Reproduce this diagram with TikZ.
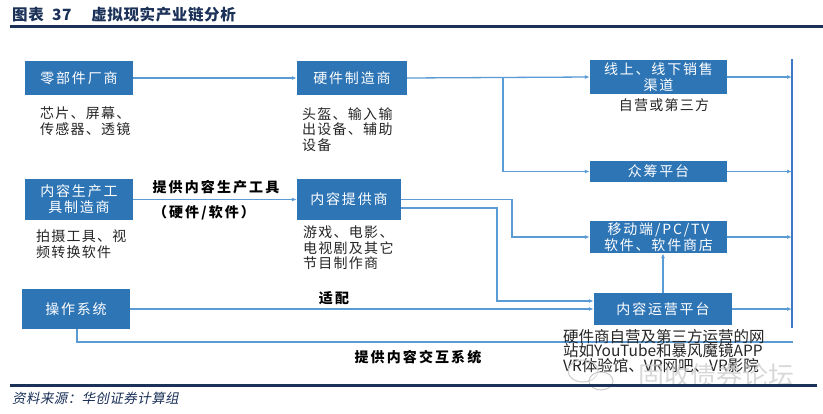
\documentclass[tikz,border=0pt]{standalone}
\usepackage{fontspec}
\setmainfont{Noto Sans CJK SC}
\newfontfamily\cjkit[FakeSlant=0.2,LetterSpace=3]{Noto Sans CJK SC}
\newfontfamily\boxfont[LetterSpace=13]{Noto Sans CJK SC}
\newfontfamily\descfont[LetterSpace=9]{Noto Sans CJK SC}
\newfontfamily\lblfont[LetterSpace=15]{Noto Sans CJK SC}
\newfontfamily\titlefont[LetterSpace=4]{Noto Sans CJK SC}
\usetikzlibrary{arrows.meta}
\definecolor{boxblue}{HTML}{2E75B6}
\definecolor{lineblue}{HTML}{5B9BD5}
\definecolor{barblue}{HTML}{3C78C3}
\definecolor{navy}{HTML}{1B3158}
\begin{document}
\begin{tikzpicture}[x=1pt,y=-1pt,
  box/.style={fill=boxblue, text=white, font=\boxfont\fontsize{14}{16}\selectfont, align=center, inner sep=0pt},
  conn/.style={draw=lineblue, line width=1.3pt},
  arr/.style={conn, -{Latex[length=5pt,width=4pt]}},
  bar/.style={draw=barblue, line width=2pt},
  desc/.style={font=\descfont\fontsize{14}{15.5}\selectfont, align=left, anchor=north west, inner sep=0pt, text=black!85},
  lbl/.style={font=\lblfont\bfseries\fontsize{14}{16}\selectfont, inner sep=0pt, text=black},
  rule/.style={draw=navy, line width=3pt}
]
\useasboundingbox (0,0) rectangle (823,413);
\fill[white] (0,0) rectangle (823,413);

% title
\node[anchor=west, inner sep=0pt, text=navy, font=\titlefont\bfseries\fontsize{15.5}{16}\selectfont] (title) at (12,15) {图表\ \ 37\quad\ 虚拟现实产业链分析};
\coordinate (t1) at (10,26);
\coordinate (t2) at (823,26);
\draw[rule] (t1) -- (t2);

% boxes
\node[box, minimum width=108pt, minimum height=34pt] (A) at (79,78) {零部件厂商};
\node[box, minimum width=110pt, minimum height=34pt] (B) at (352,78) {硬件制造商};
\node[box, minimum width=137pt, minimum height=34pt] (C) at (658.5,77) {线上、线下销售\\渠道};
\node[box, minimum width=137pt, minimum height=21pt] (D) at (658.5,171.5) {众筹平台};
\node[box, minimum width=108pt, minimum height=41pt] (E) at (79,199.5) {内容生产工\\具制造商};
\node[box, minimum width=104pt, minimum height=41pt] (F) at (349,199.5) {内容提供商};
\node[box, minimum width=137pt, minimum height=32pt] (G) at (658.5,237) {移动端/PC/TV\\软件、软件商店};
\node[box, minimum width=108pt, minimum height=40pt] (H) at (76,309) {操作系统};
\node[box, minimum width=138pt, minimum height=32pt] (I) at (663,309) {内容运营平台};

% right bar
\coordinate (Rt) at (792,59);
\coordinate (Rb) at (792,328);
\draw[bar] (Rt) -- (Rb);

% connectors
\coordinate (j1) at (503,78);
\coordinate (k1) at (512,199);
\coordinate (k2) at (497,208);
\coordinate (k4) at (77,342);
\coordinate (k5) at (793,342);
\draw[arr] (A.east) -- (B.west);
\draw[arr] (B.east) -- (C.west);
\draw[arr] (j1) |- (D.west);
\draw[arr] (C.east) -- (C.east -| Rt);
\draw[arr] (D.east) -- (D.east -| Rt);
\draw[arr] (G.east) -- (G.east -| Rt);
\draw[arr] (I.east) -- (I.east -| Rt);
\draw[arr] (E.east) -- (F.west);
\draw[arr] (F.east) -- (F.east -| k1) |- (G.west);
\draw[arr] ([yshift=-8.5pt]F.east) -- (k2) |- ([yshift=8pt]I.west);
\draw[arr] (H.east) -- (I.west);
\draw[arr] (I.north) -- (I.north |- G.south);
\draw[conn] (H.south -| k4) -- (k4) -- (k5);

% connector labels
\node[lbl] (l1) at (216,187) {提供内容生产工具};
\node[lbl] (l2) at (204,213) {（硬件/软件）};
\node[lbl] (l3) at (334,298) {适配};
\node[lbl] (l4) at (418,357) {提供内容交互系统};

% descriptions
\node[desc] (dA) at (40,107) {芯片、屏幕、\\传感器、透镜};
\node[desc] (dB) at (302,107) {头盔、输入输\\出设备、辅助\\设备};
\node[desc] (dE) at (36,230) {拍摄工具、视\\频转换软件};
\node[desc] (dF) at (303,226) {游戏、电影、\\电视剧及其它\\节目制作商};
\node[desc, anchor=center] (dC) at (664,105) {自营或第三方};
\node[desc, font=\fontsize{15.5}{14.5}\selectfont] (dI) at (563,329) {硬件商自营及第三方运营的网\\站如YouTube和暴风魔镜APP\\VR体验馆、VR网吧、VR影院};

% watermark
\draw[gray!40, line width=1pt] (583,371) ellipse (15pt and 11pt);
\draw[gray!40, line width=1pt, fill=white, fill opacity=0.4] (601,381) ellipse (12pt and 9pt);
\node[text=gray!40, font=\fontsize{26}{26}\selectfont, inner sep=0pt, opacity=0.75] (wm) at (716,376) {固收债券论坛};

% bottom rule and source
\coordinate (b1) at (10,385);
\coordinate (b2) at (817,385);
\draw[rule] (b1) -- (b2);
\node[anchor=west, inner sep=0pt, text=navy, font=\cjkit\fontsize{13.5}{14}\selectfont] (src) at (12,398) {资料来源：华创证券计算组};
\end{tikzpicture}
\end{document}
